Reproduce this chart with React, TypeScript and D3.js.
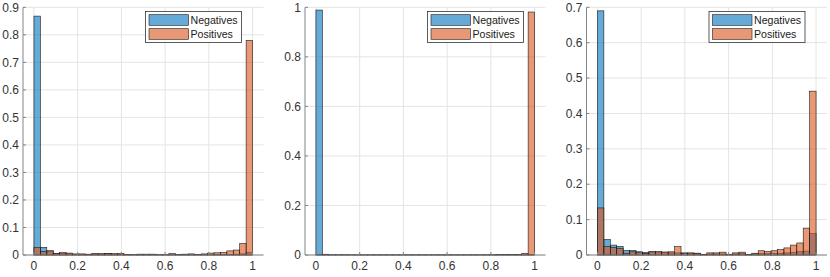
import { range, scaleBand, scaleLinear } from 'd3'

// bin centres run from 0 to 1, 34 equal bins
const binIds = range(34)

const neg1 = [0.868, 0.028, 0.013, 0.005, 0.006, 0.004, 0.002, 0.002, 0.002, 0.003, 0.004, 0.005, 0.002, 0.002, 0.001, 0.001, 0.001, 0.001, 0.001, 0.001, 0.001, 0.001, 0.001, 0.001, 0.001, 0.001, 0.001, 0.001, 0.002, 0.002, 0.002, 0.003, 0.004, 0.01]
const pos1 = [0.027, 0.013, 0.016, 0.006, 0.009, 0.007, 0.004, 0.004, 0.003, 0.006, 0.004, 0.005, 0.005, 0.006, 0.002, 0.001, 0.003, 0.003, 0.003, 0.001, 0.001, 0.005, 0.002, 0.003, 0.004, 0.002, 0.004, 0.007, 0.008, 0.009, 0.015, 0.018, 0.042, 0.78]

const neg2 = [0.989, 0.003, 0.001, 0.001, 0.001, 0.0005, 0.0005, 0.0005, 0.0005, 0.0005, 0.0005, 0.0005, 0.0005, 0.0005, 0.0005, 0.0005, 0.0005, 0.0005, 0.0005, 0.0005, 0.0005, 0.0005, 0.0005, 0.0005, 0.0005, 0.0005, 0.0005, 0.0005, 0.0005, 0.0005, 0.0005, 0.001, 0.001, 0.002]
const pos2 = [0.001, 0.0005, 0.0005, 0.0005, 0.0005, 0.0005, 0.0005, 0.0005, 0.0005, 0.0005, 0.0005, 0.0005, 0.0005, 0.0005, 0.0005, 0.0005, 0.0005, 0.0005, 0.0005, 0.0005, 0.0005, 0.0005, 0.0005, 0.0005, 0.0005, 0.0005, 0.001, 0.001, 0.002, 0.002, 0.002, 0.002, 0.007, 0.981]

const neg3 = [0.69, 0.044, 0.028, 0.0245, 0.013, 0.013, 0.009, 0.0075, 0.0085, 0.008, 0.007, 0.006, 0.006, 0.006, 0.005, 0.005, 0.002, 0.003, 0.003, 0.003, 0.002, 0.003, 0.004, 0.002, 0.003, 0.004, 0.004, 0.005, 0.005, 0.006, 0.007, 0.01, 0.011, 0.061]
const pos3 = [0.133, 0.0245, 0.021, 0.019, 0.005, 0.009, 0.008, 0.004, 0.01, 0.0095, 0.0085, 0.009, 0.0235, 0.004, 0.006, 0.005, 0.002, 0.006, 0.006, 0.008, 0.002, 0.006, 0.008, 0.002, 0.005, 0.012, 0.01, 0.012, 0.015, 0.02, 0.028, 0.034, 0.076, 0.463]

const xTicks = [0, 0.2, 0.4, 0.6, 0.8, 1]
const yTicks1 = [0, 0.1, 0.2, 0.3, 0.4, 0.5, 0.6, 0.7, 0.8, 0.9]
const yTicks2 = [0, 0.2, 0.4, 0.6, 0.8, 1]
const yTicks3 = [0, 0.1, 0.2, 0.3, 0.4, 0.5, 0.6, 0.7]
const seriesNames = ['Negatives', 'Positives']

const panels = [
  { neg: neg1, pos: pos1, yTicks: yTicks1, yMax: 0.9 },
  { neg: neg2, pos: pos2, yTicks: yTicks2, yMax: 1 },
  { neg: neg3, pos: pos3, yTicks: yTicks3, yMax: 0.7 },
]

const width = 830
const height = 277
const panelLefts = [23, 305, 586.5]
const panelWidth = 240.5
const plotTop = 7.3
const plotBottom = 255

const blue = '#0072BD'
const orange = '#D95319'
const font = '"Liberation Sans", Arial, Helvetica, sans-serif'

const Panel = ({ left, neg, pos, yTicks, yMax }: { left: number; neg: number[]; pos: number[]; yTicks: number[]; yMax: number }) => {
  const x = scaleLinear().domain([-0.05, 1.05]).range([left, left + panelWidth])
  const y = scaleLinear().domain([0, yMax]).range([plotBottom, plotTop])
  const band = scaleBand<number>().domain(binIds).range([x(0), x(1)]).paddingInner(0).paddingOuter(0)
  const right = left + panelWidth

  const legendRight = right - 22
  const legendLeft = legendRight - 96
  const legendTop = 11.5

  const bars = (values: number[], color: string) =>
    values.map((v, i) => (
      <rect
        key={i}
        x={band(i)}
        y={y(v)}
        width={band.bandwidth()}
        height={plotBottom - y(v)}
        fill={color}
        fillOpacity={0.6}
        stroke="#1a1a1a"
        strokeWidth={0.6}
      />
    ))

  return (
    <g>
      {xTicks.map((t) => (
        <line key={`gx${t}`} x1={x(t)} x2={x(t)} y1={plotTop} y2={plotBottom} stroke="#e4e4e4" strokeWidth={1} />
      ))}
      {yTicks.map((t) => (
        <line key={`gy${t}`} x1={left} x2={right} y1={y(t)} y2={y(t)} stroke="#e4e4e4" strokeWidth={1} />
      ))}

      <g>{bars(neg, blue)}</g>
      <g>{bars(pos, orange)}</g>

      <line x1={left} x2={right} y1={plotBottom} y2={plotBottom} stroke="#858585" strokeWidth={1} />
      <line x1={left} x2={left} y1={plotTop} y2={plotBottom} stroke="#858585" strokeWidth={1} />
      {xTicks.map((t) => (
        <g key={`tx${t}`}>
          <line x1={x(t)} x2={x(t)} y1={plotBottom} y2={plotBottom - 3} stroke="#858585" />
          <text x={x(t)} y={269.5} textAnchor="middle" fontSize={12} fill="#333" fontFamily={font}>
            {String(t)}
          </text>
        </g>
      ))}
      {yTicks.map((t) => (
        <g key={`ty${t}`}>
          <line x1={left} x2={left + 3} y1={y(t)} y2={y(t)} stroke="#858585" />
          <text x={left - 4} y={y(t)} dy="0.35em" textAnchor="end" fontSize={12} fill="#333" fontFamily={font}>
            {String(t)}
          </text>
        </g>
      ))}

      <rect x={legendLeft} y={legendTop} width={96} height={31} fill="#fff" stroke="#333" strokeWidth={0.8} />
      {seriesNames.map((name, i) => (
        <g key={name} transform={`translate(${legendLeft}, ${legendTop + 3.2 + i * 14})`}>
          <rect x={3.5} y={0} width={39.5} height={10.6} fill={i === 0 ? blue : orange} fillOpacity={0.6} stroke="#1a1a1a" strokeWidth={0.6} />
          <text x={45} y={5.3} dy="0.35em" fontSize={10.6} fill="#1a1a1a" fontFamily={font}>
            {name}
          </text>
        </g>
      ))}
    </g>
  )
}

const App = () => (
  <svg width={width} height={height} style={{ position: 'absolute', left: 0, top: 0, background: '#fff' }}>
    {panels.map((p, i) => (
      <Panel key={i} left={panelLefts[i]} {...p} />
    ))}
  </svg>
)

export default App
